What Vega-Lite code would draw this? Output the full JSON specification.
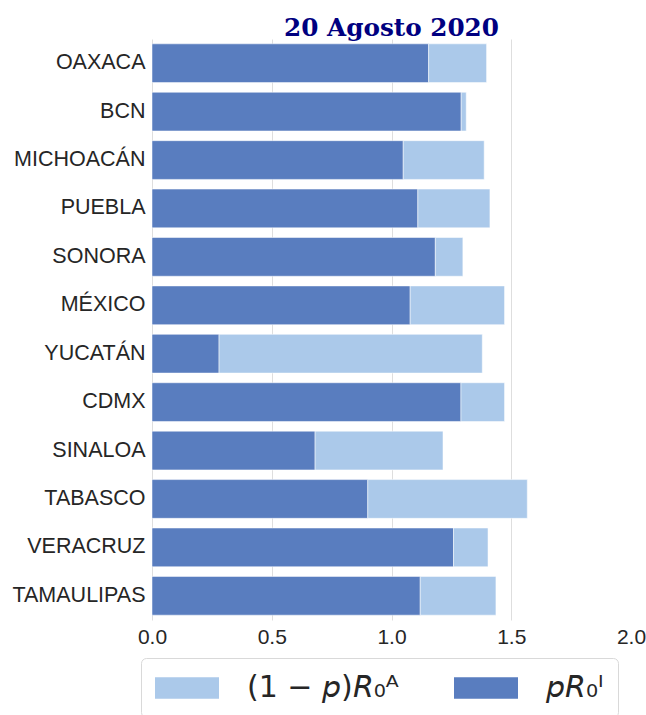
{
  "$schema": "https://vega.github.io/schema/vega-lite/v6.json",
  "autosize": {"type": "none"},
  "padding": {"left": 152, "top": 39, "right": 15, "bottom": 95},
  "width": 479,
  "height": 581,
  "background": "white",
  "title": {
    "text": "20 Agosto 2020",
    "font": "DejaVu Serif",
    "fontSize": 24.7,
    "fontWeight": "bold",
    "color": "#000080",
    "anchor": "middle",
    "baseline": "alphabetic",
    "offset": 5,
    "dy": 27
  },
  "data": {
    "values": [
      {"estado": "OAXACA", "serie": "pR", "orden": 1, "valor": 1.155},
      {"estado": "OAXACA", "serie": "(1-p)R", "orden": 2, "valor": 0.242},
      {"estado": "BCN", "serie": "pR", "orden": 1, "valor": 1.291},
      {"estado": "BCN", "serie": "(1-p)R", "orden": 2, "valor": 0.021},
      {"estado": "MICHOACÁN", "serie": "pR", "orden": 1, "valor": 1.049},
      {"estado": "MICHOACÁN", "serie": "(1-p)R", "orden": 2, "valor": 0.338},
      {"estado": "PUEBLA", "serie": "pR", "orden": 1, "valor": 1.110},
      {"estado": "PUEBLA", "serie": "(1-p)R", "orden": 2, "valor": 0.301},
      {"estado": "SONORA", "serie": "pR", "orden": 1, "valor": 1.183},
      {"estado": "SONORA", "serie": "(1-p)R", "orden": 2, "valor": 0.115},
      {"estado": "MÉXICO", "serie": "pR", "orden": 1, "valor": 1.078},
      {"estado": "MÉXICO", "serie": "(1-p)R", "orden": 2, "valor": 0.394},
      {"estado": "YUCATÁN", "serie": "pR", "orden": 1, "valor": 0.280},
      {"estado": "YUCATÁN", "serie": "(1-p)R", "orden": 2, "valor": 1.099},
      {"estado": "CDMX", "serie": "pR", "orden": 1, "valor": 1.290},
      {"estado": "CDMX", "serie": "(1-p)R", "orden": 2, "valor": 0.182},
      {"estado": "SINALOA", "serie": "pR", "orden": 1, "valor": 0.681},
      {"estado": "SINALOA", "serie": "(1-p)R", "orden": 2, "valor": 0.534},
      {"estado": "TABASCO", "serie": "pR", "orden": 1, "valor": 0.901},
      {"estado": "TABASCO", "serie": "(1-p)R", "orden": 2, "valor": 0.666},
      {"estado": "VERACRUZ", "serie": "pR", "orden": 1, "valor": 1.259},
      {"estado": "VERACRUZ", "serie": "(1-p)R", "orden": 2, "valor": 0.144},
      {"estado": "TAMAULIPAS", "serie": "pR", "orden": 1, "valor": 1.120},
      {"estado": "TAMAULIPAS", "serie": "(1-p)R", "orden": 2, "valor": 0.316}
    ]
  },
  "mark": {"type": "bar", "stroke": "#ffffff", "strokeOpacity": 0.5, "strokeWidth": 1},
  "encoding": {
    "y": {
      "field": "estado",
      "type": "nominal",
      "sort": null,
      "scale": {"paddingInner": 0.2, "paddingOuter": 0.1},
      "axis": {
        "title": null,
        "ticks": false,
        "domain": false,
        "grid": false,
        "labelFont": "Liberation Sans",
        "labelFontSize": 21.5,
        "labelColor": "#262626",
        "labelPadding": 7
      }
    },
    "x": {
      "field": "valor",
      "type": "quantitative",
      "stack": "zero",
      "scale": {"domain": [0, 2], "nice": false},
      "axis": {
        "title": null,
        "values": [0, 0.5, 1, 1.5, 2],
        "format": ".1f",
        "ticks": false,
        "domain": false,
        "grid": true,
        "gridColor": {"condition": {"test": "datum.value == 2", "value": "transparent"}, "value": "#dedede"},
        "gridWidth": 1,
        "labelFont": "Liberation Sans",
        "labelFontSize": 21,
        "labelColor": "#262626",
        "labelPadding": 6,
        "labelFlush": false
      }
    },
    "order": {"field": "orden", "type": "quantitative"},
    "color": {
      "field": "serie",
      "type": "nominal",
      "scale": {"domain": ["(1-p)R", "pR"], "range": ["#abc9ea", "#597dbf"]},
      "legend": {
        "title": null,
        "orient": "none",
        "legendX": -11,
        "legendY": 619,
        "direction": "horizontal",
        "columns": 2,
        "labelExpr": "datum.value == 'pR' ? '𝘱𝘙₀ᴵ' : '(1 − 𝘱)𝘙₀ᴬ'",
        "labelFont": "DejaVu Sans",
        "labelFontSize": 30,
        "labelColor": "#262626",
        "labelOffset": 44,
        "labelLimit": 400,
        "symbolType": "M-2,-0.67H2V0.67H-2Z",
        "symbolSize": 1024,
        "symbolOffset": 16,
        "symbolStrokeWidth": 0,
        "symbolOpacity": 1,
        "columnPadding": 55,
        "padding": 14,
        "strokeColor": "#d9d9d9",
        "fillColor": "#ffffff",
        "cornerRadius": 5
      }
    }
  },
  "config": {"view": {"stroke": null}}
}
